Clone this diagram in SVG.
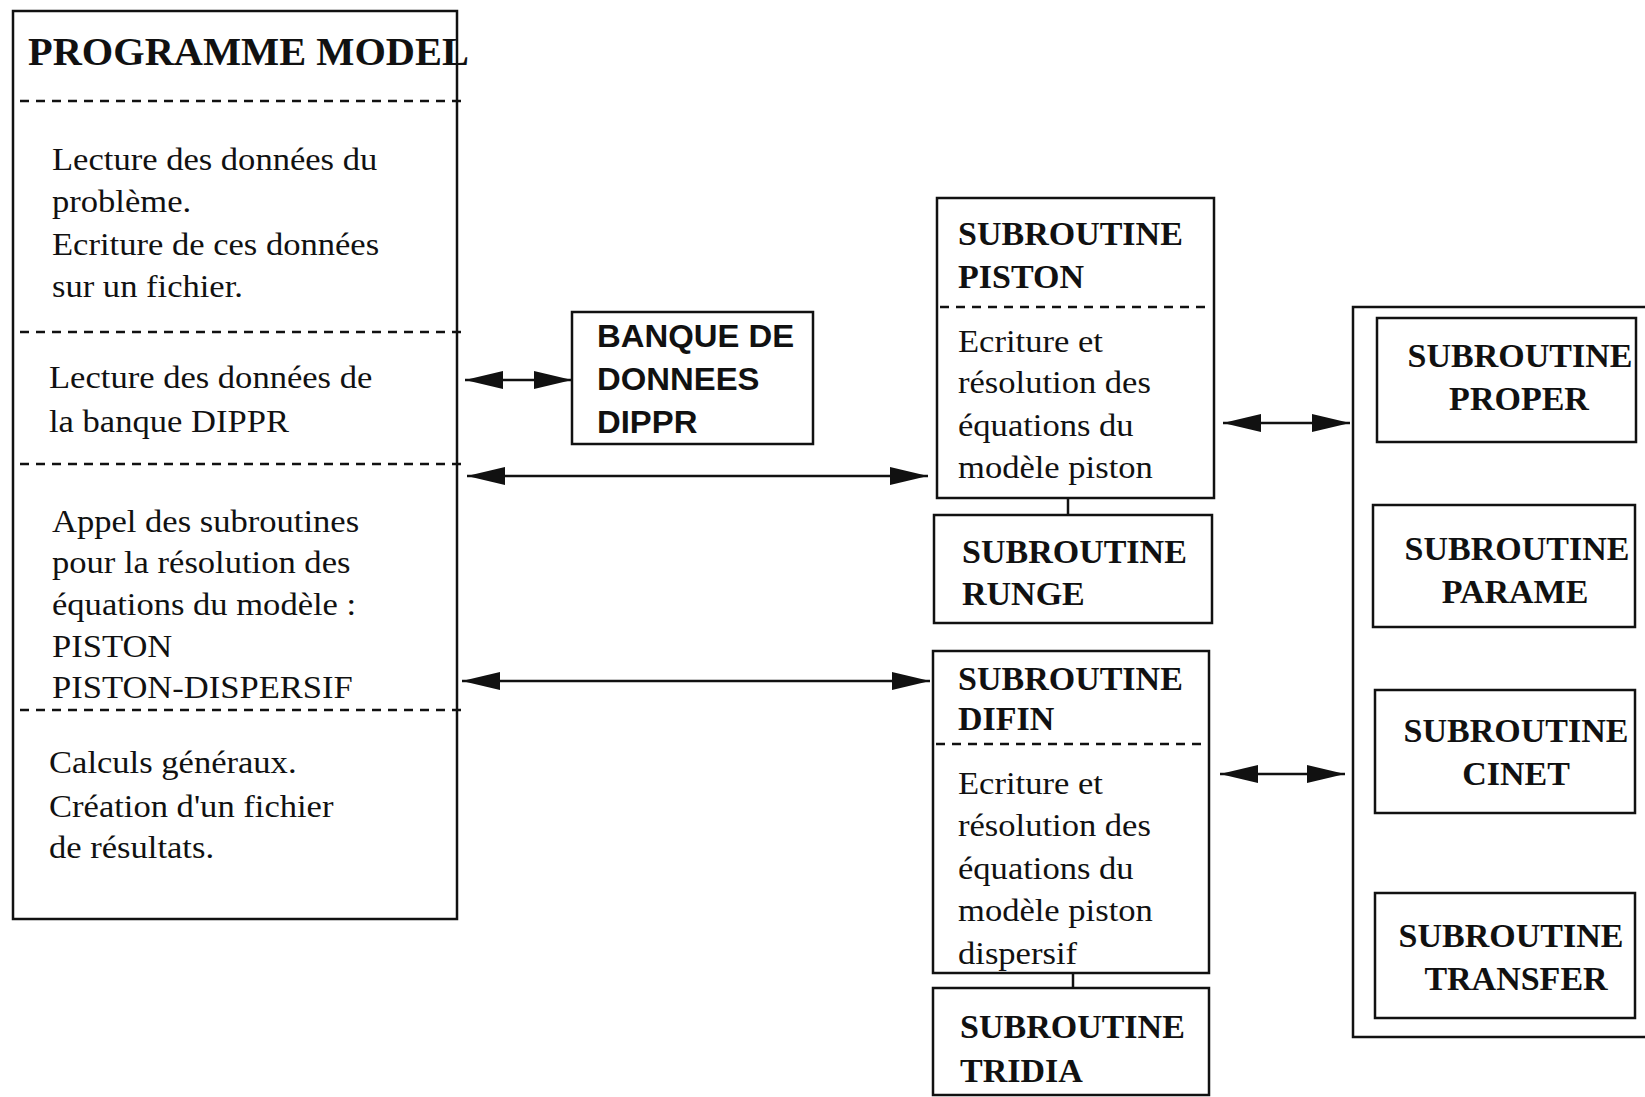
<svg xmlns="http://www.w3.org/2000/svg" width="1645" height="1097" viewBox="0 0 1645 1097">
<style>
.box{fill:none;stroke:#111;stroke-width:2.5}
.dash{fill:none;stroke:#111;stroke-width:2.4;stroke-dasharray:9 7}
.ln{fill:none;stroke:#111;stroke-width:2.5}
.reg{font-family:"Liberation Serif","Times New Roman",serif;font-size:32px;fill:#111}
.bold{font-family:"Liberation Serif","Times New Roman",serif;font-size:34px;font-weight:bold;fill:#111}
.title{font-family:"Liberation Serif","Times New Roman",serif;font-size:40px;font-weight:bold;fill:#111}
.sans{font-family:"Liberation Sans",Arial,sans-serif;font-size:31px;font-weight:bold;fill:#111}
.mid{text-anchor:middle}
</style>
<defs>
<marker id="arr" viewBox="0 0 38 20" refX="38" refY="10" markerWidth="38" markerHeight="20" markerUnits="userSpaceOnUse" orient="auto-start-reverse">
<path d="M0,1 L38,10 L0,19 z" fill="#111"/>
</marker>
</defs>
<rect width="1645" height="1097" fill="#fff"/>

<g id="programme-model">
<rect class="box" x="13" y="11" width="444" height="908"/>
<text class="title" transform="translate(28 0) scale(1.01 1)"><tspan x="0" y="65">PROGRAMME MODEL</tspan></text>
<line class="dash" x1="20" y1="101" x2="461" y2="101"/>
<text class="reg" transform="translate(52 0) scale(1.08 1)">
<tspan x="0" y="170">Lecture des données du</tspan>
<tspan x="0" y="212">problème.</tspan>
<tspan x="0" y="255">Ecriture de ces données</tspan>
<tspan x="0" y="297">sur un fichier.</tspan>
</text>
<line class="dash" x1="20" y1="332" x2="461" y2="332"/>
<text class="reg" transform="translate(49 0) scale(1.08 1)">
<tspan x="0" y="388">Lecture des données de</tspan>
<tspan x="0" y="432">la banque DIPPR</tspan>
</text>
<line class="dash" x1="20" y1="464" x2="461" y2="464"/>
<text class="reg" transform="translate(52 0) scale(1.08 1)">
<tspan x="0" y="532">Appel des subroutines</tspan>
<tspan x="0" y="573">pour la résolution des</tspan>
<tspan x="0" y="615">équations du modèle :</tspan>
<tspan x="0" y="657">PISTON</tspan>
<tspan x="0" y="698">PISTON-DISPERSIF</tspan>
</text>
<line class="dash" x1="20" y1="710" x2="461" y2="710"/>
<text class="reg" transform="translate(49 0) scale(1.08 1)">
<tspan x="0" y="773">Calculs généraux.</tspan>
<tspan x="0" y="817">Création d'un fichier</tspan>
<tspan x="0" y="858">de résultats.</tspan>
</text>
</g>

<g id="banque">
<rect class="box" x="572" y="312" width="241" height="132"/>
<text class="sans" transform="translate(597 0) scale(1.06 1)">
<tspan x="0" y="347">BANQUE DE</tspan>
<tspan x="0" y="390">DONNEES</tspan>
<tspan x="0" y="433">DIPPR</tspan>
</text>
</g>

<g id="piston">
<rect class="box" x="937" y="198" width="277" height="300"/>
<text class="bold"><tspan x="958" y="245">SUBROUTINE</tspan><tspan x="958" y="288">PISTON</tspan></text>
<line class="dash" x1="940" y1="307" x2="1212" y2="307"/>
<text class="reg" transform="translate(958 0) scale(1.08 1)">
<tspan x="0" y="352">Ecriture et</tspan>
<tspan x="0" y="393">résolution des</tspan>
<tspan x="0" y="436">équations du</tspan>
<tspan x="0" y="478">modèle piston</tspan>
</text>
</g>

<g id="runge">
<rect class="box" x="934" y="515" width="278" height="108"/>
<text class="bold"><tspan x="962" y="563">SUBROUTINE</tspan><tspan x="962" y="605">RUNGE</tspan></text>
</g>

<g id="difin">
<rect class="box" x="933" y="651" width="276" height="322"/>
<text class="bold"><tspan x="958" y="690">SUBROUTINE</tspan><tspan x="958" y="730">DIFIN</tspan></text>
<line class="dash" x1="936" y1="744" x2="1207" y2="744"/>
<text class="reg" transform="translate(958 0) scale(1.08 1)">
<tspan x="0" y="794">Ecriture et</tspan>
<tspan x="0" y="836">résolution des</tspan>
<tspan x="0" y="879">équations du</tspan>
<tspan x="0" y="921">modèle piston</tspan>
<tspan x="0" y="964">dispersif</tspan>
</text>
</g>

<g id="tridia">
<rect class="box" x="933" y="988" width="276" height="107"/>
<text class="bold"><tspan x="960" y="1038">SUBROUTINE</tspan><tspan x="960" y="1082">TRIDIA</tspan></text>
</g>

<g id="groupe-droite">
<path class="box" d="M1660,307 L1353,307 L1353,1037 L1660,1037"/>
</g>

<g id="proper">
<rect class="box" x="1377" y="318" width="259" height="124"/>
<text class="bold mid"><tspan x="1520" y="367">SUBROUTINE</tspan><tspan x="1519" y="410">PROPER</tspan></text>
</g>

<g id="parame">
<rect class="box" x="1373" y="505" width="262" height="122"/>
<text class="bold mid"><tspan x="1517" y="560">SUBROUTINE</tspan><tspan x="1515" y="603">PARAME</tspan></text>
</g>

<g id="cinet">
<rect class="box" x="1375" y="690" width="260" height="123"/>
<text class="bold mid"><tspan x="1516" y="742">SUBROUTINE</tspan><tspan x="1516" y="785">CINET</tspan></text>
</g>

<g id="transfer">
<rect class="box" x="1375" y="893" width="260" height="125"/>
<text class="bold mid"><tspan x="1511" y="947">SUBROUTINE</tspan><tspan x="1516" y="990">TRANSFER</tspan></text>
</g>

<g id="connecteurs">
<line class="ln" x1="465" y1="380" x2="572" y2="380" marker-start="url(#arr)" marker-end="url(#arr)"/>
<line class="ln" x1="467" y1="476" x2="928" y2="476" marker-start="url(#arr)" marker-end="url(#arr)"/>
<line class="ln" x1="462" y1="681" x2="930" y2="681" marker-start="url(#arr)" marker-end="url(#arr)"/>
<line class="ln" x1="1223" y1="423" x2="1350" y2="423" marker-start="url(#arr)" marker-end="url(#arr)"/>
<line class="ln" x1="1220" y1="774" x2="1345" y2="774" marker-start="url(#arr)" marker-end="url(#arr)"/>
<line class="ln" x1="1068" y1="498" x2="1068" y2="515"/>
<line class="ln" x1="1073" y1="973" x2="1073" y2="988"/>
</g>
</svg>
